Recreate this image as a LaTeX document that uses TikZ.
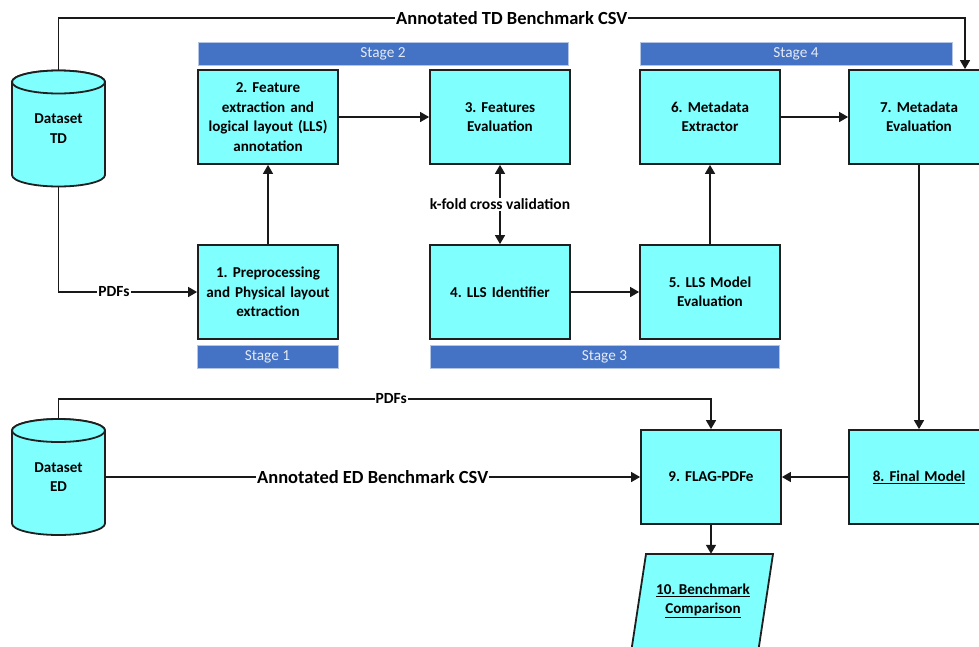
\documentclass[tikz,border=0pt]{standalone}
\usepackage{fontspec}
\setmainfont{Carlito}
\usetikzlibrary{arrows.meta}
\definecolor{boxfill}{HTML}{80FFFF}
\definecolor{stagefill}{HTML}{4472C4}
\definecolor{stageedge}{HTML}{B4C4E4}
\definecolor{stagetext}{HTML}{E4EAF4}
\frenchspacing
\begin{document}
\begin{tikzpicture}[x=1pt,y=-1pt,
  proc/.style={draw=black!88, line width=1.8pt, fill=boxfill, minimum width=140pt, minimum height=94pt,
    inner sep=2pt, align=center, text width=136pt, font=\fontsize{15.1}{19.5}\selectfont\bfseries},
  dbnode/.style={minimum width=93pt, minimum height=117pt, inner sep=0pt, align=center,
    font=\fontsize{15.1}{19.5}\selectfont\bfseries},
  db/.style={draw=black!88, line width=1.8pt, fill=boxfill},
  stagebar/.style={fill=stagefill, draw=stageedge, line width=0.8pt, minimum height=23pt, inner sep=0pt,
    font=\fontsize{15.3}{17}\selectfont, text=stagetext},
  conn/.style={line width=1.5pt, draw=black!90, -{Triangle[length=9pt,width=10pt]}},
  biconn/.style={line width=1.5pt, draw=black!90, {Triangle[length=9pt,width=10pt]}-{Triangle[length=9pt,width=10pt]}},
  lbl/.style={fill=white, inner sep=1pt, font=\fontsize{15.5}{17}\selectfont\bfseries},
  biglbl/.style={fill=white, inner sep=1pt, font=\fontsize{18.5}{20}\selectfont\bfseries}
]
\useasboundingbox (0,0) rectangle (979,646);
\clip (0,0) rectangle (979,646);

% stage bars
\node[stagebar, minimum width=370pt] (s2) at (383,53.5) {Stage 2};
\node[stagebar, minimum width=312pt] (s4) at (796,53.5) {Stage 4};
\node[stagebar, minimum width=141pt] (s1) at (267.5,356.5) {Stage 1};
\node[stagebar, minimum width=349pt] (s3) at (604.5,356.5) {Stage 3};

% cylinders
\draw[db] (12,82) -- (12,175) arc[start angle=180, end angle=360, x radius=46.5pt, y radius=11.5pt]
  -- (105,82) arc[start angle=0, end angle=180, x radius=46.5pt, y radius=11.5pt] -- cycle;
\draw[db] (58.5,82) ellipse[x radius=46.5pt, y radius=11.5pt];
\node[dbnode] (dtd) at (58.5,128.5) {Dataset\\TD};

\draw[db] (12,430.5) -- (12,523.5) arc[start angle=180, end angle=360, x radius=46.5pt, y radius=11.5pt]
  -- (105,430.5) arc[start angle=0, end angle=180, x radius=46.5pt, y radius=11.5pt] -- cycle;
\draw[db] (58.5,430.5) ellipse[x radius=46.5pt, y radius=11.5pt];
\node[dbnode] (ded) at (58.5,477) {Dataset\\ED};

% process boxes
\node[proc] (b2) at (268,117) {2. Feature\\extraction and\\logical layout (LLS)\\annotation};
\node[proc] (b3) at (500,117) {3. Features\\Evaluation};
\node[proc] (b6) at (710,117) {6. Metadata\\Extractor};
\node[proc] (b7) at (919,117) {7. Metadata\\Evaluation};
\node[proc] (b1) at (268,292) {1. Preprocessing\\and Physical layout\\extraction};
\node[proc] (b4) at (500,292) {4. LLS Identifier};
\node[proc] (b5) at (710,292) {5. LLS Model\\Evaluation};
\node[proc] (b9) at (711,477) {9. FLAG-PDFe};
\node[proc] (b8) at (919,477) {\underline{8. Final Model}};

% benchmark comparison (parallelogram)
\draw[db] (646,554) -- (773,554) -- (756.3,664) -- (629.3,664) -- cycle;
\node[dbnode, minimum width=120pt, minimum height=94pt] (b10) at (703,601) {\underline{10. Benchmark}\\\underline{Comparison}};

% connectors
\draw[conn] (b1) -- (b2);
\draw[conn] (b2) -- (b3);
\draw[biconn] (b3) -- node[lbl] {k-fold cross validation} (b4);
\draw[conn] (b4) -- (b5);
\draw[conn] (b5) -- (b6);
\draw[conn] (b6) -- (b7);
\draw[conn] (b7) -- (b8);
\draw[conn] (b8) -- (b9);
\draw[conn] (b9.south) -- (b9.south |- b10.north);

\coordinate (t1) at (58.5,18);
\coordinate (t2) at (965,18);
\draw[conn] (dtd.north) -- (t1) -- node[biglbl, pos=0.5] {Annotated TD Benchmark CSV} (t2) -- (t2 |- b7.north);

\draw[conn] (dtd.south) |- node[lbl, pos=0.7] {PDFs} (b1.west);

\coordinate (e1) at (58.5,399);
\coordinate (e2) at (711,399);
\draw[conn] (ded.north) -- (e1) -- node[lbl, pos=0.51] {PDFs} (e2) -- (b9.north);

\draw[conn] (ded.east) -- node[biglbl] {Annotated ED Benchmark CSV} (b9.west);
\end{tikzpicture}
\end{document}
